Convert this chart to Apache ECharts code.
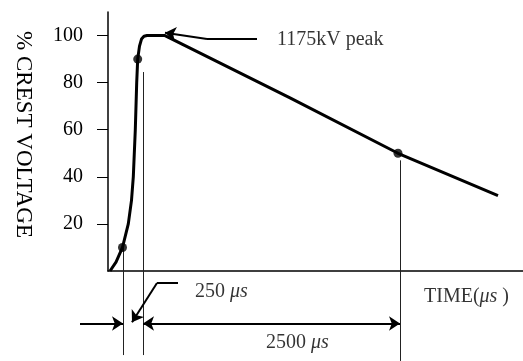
<!DOCTYPE html>
<html>
<head>
<meta charset="utf-8">
<script src="https://cdn.jsdelivr.net/npm/echarts@6/dist/echarts.min.js"></script>
<style>html,body{margin:0;padding:0;background:#fff}#c{width:523px;height:361px}</style>
</head>
<body>
<div id="c"></div>
<script>
// Schematic impulse waveform (time in arbitrary schematic units, voltage in % of crest)
var waveT = [2, 8, 14.5, 20.3, 23.5, 25.3, 27.3, 28.7, 29.7, 31.5, 33.5, 36, 39, 57, 182, 290, 390];
var waveV = [0, 3.8, 10, 20, 30, 40, 60, 80, 90, 95.5, 98.5, 99.7, 100, 100, 73.5, 50, 32];
var markerT = [14.5, 29.7, 290];
var markerV = [10, 90, 50];
var yTicks = [20, 40, 60, 80, 100];
var yName = '% CREST VOLTAGE';
var xName = 'TIME(\u03bcs )';
var noteTexts = ['1175kV peak', '250 \u03bcs', '2500 \u03bcs', xName];
var noteT = [169, 87, 158, 316];
var noteV = [98.1, -8.9, -30.6, -11];
// guide lines: [t, vFrom, vTo]
var guideT = [15, 35, 292];
var guideFrom = [10, 84.5, 47];
var guideTo = [-35.7, -35.7, -38.2];
// arrows / leaders: from (t,v) to (t,v), end symbols
var arrowFromT = [-28, 35, 70, 49, 149, 99];
var arrowFromV = [-22.3, -22.3, -5.1, -5.1, 98.5, 98.5];
var arrowToT = [15, 292, 49, 24, 99, 57];
var arrowToV = [-22.3, -22.3, -5.1, -21.8, 98.5, 101.2];
var arrowSym = [['none','arrow'], ['arrow','arrow'], ['none','none'], ['none','arrow'], ['none','none'], ['none','arrow']];

var font = 'Liberation Serif';
var chart = echarts.init(document.getElementById('c'), null, {renderer: 'canvas'});

var wave = waveT.map(function (t, i) { return [t, waveV[i]]; });
var markers = markerT.map(function (t, i) { return [t, markerV[i]]; });
var notes = noteT.map(function (t, i) { return {name: noteTexts[i], value: [t, noteV[i]]}; });
var guides = guideT.map(function (t, i) { return {coords: [[t, guideFrom[i]], [t, guideTo[i]]]}; });
var arrows = arrowFromT.map(function (t, i) {
  return {coords: [[t, arrowFromV[i]], [arrowToT[i], arrowToV[i]]], symbol: arrowSym[i]};
});

function noteFormatter(p) {
  var s = p.name;
  var k = s.indexOf('\u03bcs');
  if (k < 0) return '{n|' + s + '}';
  var out = '';
  if (k > 0) out += '{n|' + s.slice(0, k) + '}';
  out += '{i|\u03bcs}';
  if (k + 2 < s.length) out += '{n|' + s.slice(k + 2) + '}';
  return out;
}

chart.setOption({
  animation: false,
  backgroundColor: '#fff',
  grid: {left: 108, right: 0, top: 12, bottom: 90},
  xAxis: {
    type: 'value', min: 0, max: 415,
    axisLine: {show: true, onZero: false, lineStyle: {color: '#000', width: 1.5}},
    axisTick: {show: false}, axisLabel: {show: false}, splitLine: {show: false}
  },
  yAxis: {
    type: 'value', min: 0, max: 110,
    name: yName, nameLocation: 'middle', nameRotate: -90, nameGap: 73,
    nameTextStyle: {fontFamily: font, fontSize: 23, color: '#000', padding: [0, 14, 0, 0]},
    axisLine: {show: true, lineStyle: {color: '#000', width: 1.5}},
    axisTick: {show: true, length: 11, customValues: yTicks, lineStyle: {color: '#000', width: 1}},
    axisLabel: {customValues: yTicks, margin: 25, fontFamily: font, fontSize: 20, color: '#000'},
    splitLine: {show: false}
  },
  series: [
    {
      type: 'lines', coordinateSystem: 'cartesian2d', clip: false, silent: true,
      lineStyle: {color: '#222', width: 1, opacity: 1},
      symbol: ['none', 'none'],
      data: guides
    },
    {
      type: 'lines', coordinateSystem: 'cartesian2d', clip: false, silent: true,
      lineStyle: {color: '#000', width: 2, opacity: 1},
      symbolSize: 11,
      data: arrows
    },
    {
      type: 'line', data: wave, showSymbol: false, clip: false,
      lineStyle: {color: '#000', width: 3}, smooth: false
    },
    {
      type: 'scatter', data: markers, symbol: 'circle', symbolSize: 9,
      itemStyle: {color: '#000'}, clip: false
    },
    {
      type: 'scatter', data: notes, symbolSize: 0, clip: false, silent: true,
      label: {show: true, position: 'right', distance: 0, formatter: noteFormatter,
        rich: {
          n: {fontFamily: font, fontSize: 20, color: '#000'},
          i: {fontFamily: font, fontSize: 20, fontStyle: 'italic', color: '#000'}
        }}
    }
  ]
});
</script>
</body>
</html>
